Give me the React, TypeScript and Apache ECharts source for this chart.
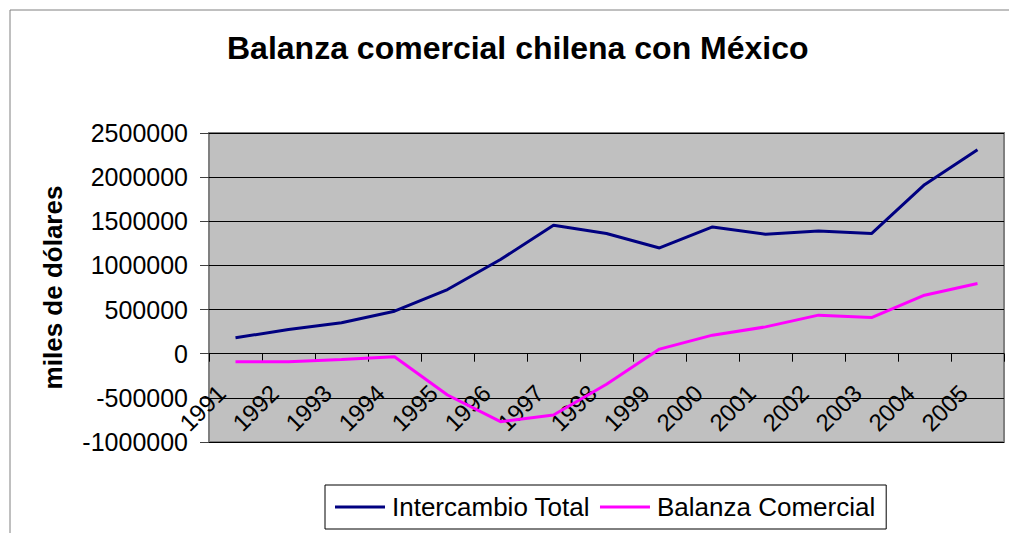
import React, { useEffect, useRef } from "react";
import * as echarts from "echarts";

const years = ["1991","1992","1993","1994","1995","1996","1997","1998","1999","2000","2001","2002","2003","2004","2005"];
const intercambioTotal = [180000, 275000, 350000, 482000, 727000, 1067000, 1455000, 1361000, 1198000, 1436000, 1353000, 1390000, 1361000, 1915000, 2311000];
const balanzaComercial = [-92000, -90000, -65000, -35000, -468000, -770000, -695000, -345000, 52000, 210000, 304000, 437000, 410000, 663000, 795000];
const yTicks = { min: -1000000, max: 2500000, interval: 500000 };

const FONT = "'Liberation Sans', Arial, sans-serif";

export default function App() {
  const ref = useRef<HTMLDivElement>(null);
  useEffect(() => {
    if (!ref.current) return;
    const chart = echarts.init(ref.current, undefined, { renderer: "svg" });
    chart.setOption({
      animation: false,
      backgroundColor: "#ffffff",
      textStyle: { fontFamily: FONT },
      title: {
        text: "Balanza comercial chilena con México",
        left: 227,
        top: 32,
        padding: 0,
        textStyle: { fontFamily: FONT, fontSize: 32, fontWeight: "bold", color: "#000" },
      },
      graphic: [
        {
          type: "rect",
          shape: { x: 10, y: 10, width: 1200, height: 700 },
          style: { fill: "none", stroke: "#808080", lineWidth: 1 },
          silent: true,
          z: -1,
        },
      ],
      legend: {
        left: 325,
        top: 485,
        padding: [9, 11, 9, 10],
        borderColor: "#000",
        borderWidth: 1,
        backgroundColor: "#fff",
        itemWidth: 50,
        itemHeight: 3,
        itemGap: 10,
        icon: "rect",
        textStyle: { fontFamily: FONT, fontSize: 26, color: "#000", padding: [0, 0, 0, 2] },
        data: ["Intercambio Total", "Balanza Comercial"],
      },
      grid: {
        left: 209,
        top: 133,
        right: 5,
        bottom: 91,
        show: true,
        backgroundColor: "#C0C0C0",
        borderColor: "#808080",
        borderWidth: 2,
        containLabel: false,
      },
      xAxis: {
        type: "category",
        data: years,
        boundaryGap: true,
        axisLine: { onZero: true, lineStyle: { color: "#000", width: 1 } },
        axisTick: { show: true, inside: false, length: 8, lineStyle: { color: "#000" } },
        axisLabel: {
          interval: 0,
          rotate: 45,
          margin: -67,
          padding: [0, 20, 0, 0],
          fontFamily: FONT,
          fontSize: 24,
          color: "#000",
        },
        splitLine: { show: false },
      },
      yAxis: {
        type: "value",
        min: yTicks.min,
        max: yTicks.max,
        interval: yTicks.interval,
        name: "miles de dólares",
        nameLocation: "middle",
        nameRotate: 90,
        nameGap: 143,
        nameTextStyle: { fontFamily: FONT, fontSize: 26, fontWeight: "bold", color: "#000" },
        axisLine: { show: false },
        axisTick: { show: true, inside: false, length: 9, lineStyle: { color: "#404040" } },
        axisLabel: {
          margin: 21,
          fontFamily: FONT,
          fontSize: 25,
          color: "#000",
          formatter: (v: number) => String(v),
        },
        splitLine: { show: true, lineStyle: { color: "#000", width: 1 } },
      },
      series: [
        {
          name: "Intercambio Total",
          type: "line",
          data: intercambioTotal,
          showSymbol: false,
          symbol: "none",
          lineStyle: { color: "#000080", width: 3 },
          itemStyle: { color: "#000080" },
        },
        {
          name: "Balanza Comercial",
          type: "line",
          data: balanzaComercial,
          showSymbol: false,
          symbol: "none",
          lineStyle: { color: "#FF00FF", width: 3 },
          itemStyle: { color: "#FF00FF" },
        },
      ],
    });
    return () => chart.dispose();
  }, []);
  return (
    <div
      ref={ref}
      style={{ position: "fixed", left: 0, top: 0, width: 1009, height: 533 }}
    />
  );
}
